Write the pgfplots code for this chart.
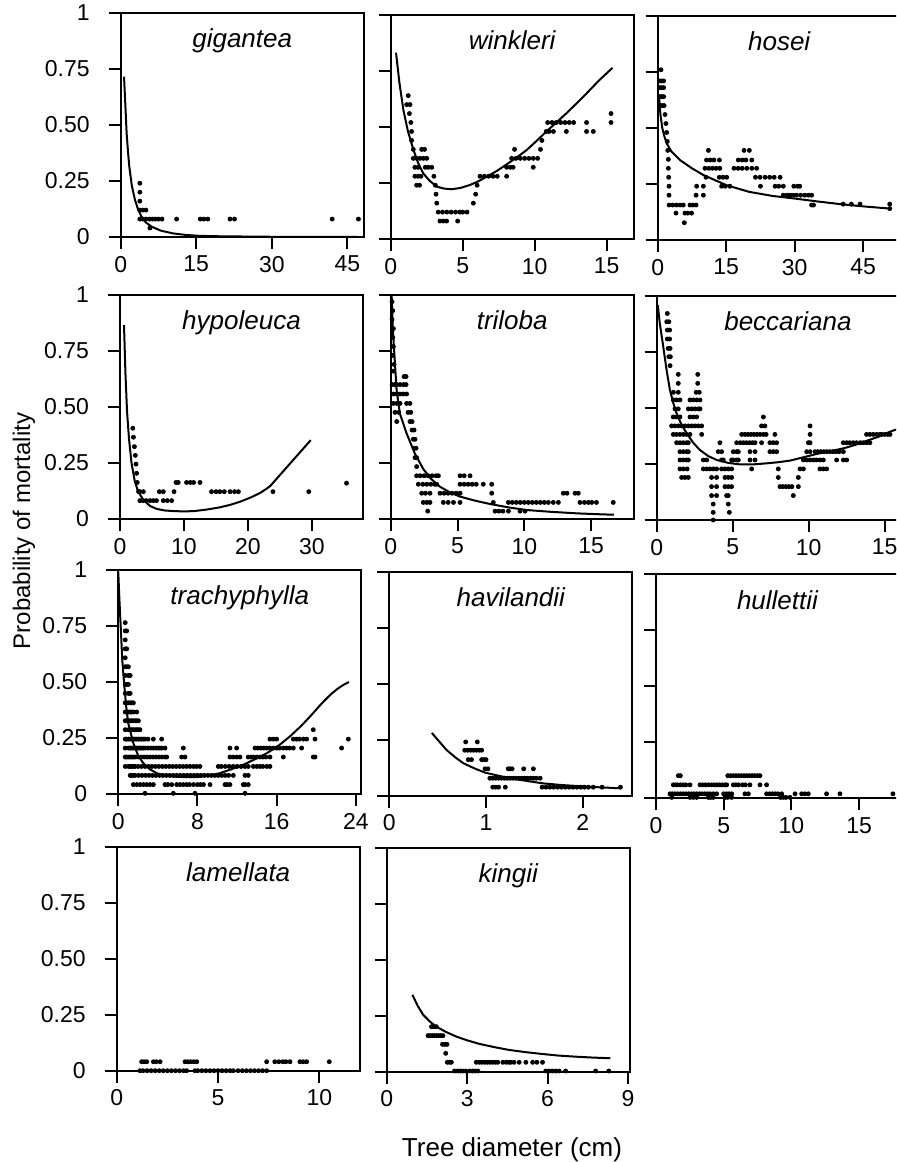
\documentclass[border=0pt]{standalone}
\usepackage{fontspec}
\setmainfont{Liberation Sans}
\usepackage{pgfplots}
\pgfplotsset{compat=1.18}
\pgfplotsset{
  panel/.style={scale only axis, width=121.5pt, height=112pt, anchor=south west,
    xmin=0, ymin=0, ymax=1, clip=false,
    axis line style={line width=1pt}, tick style={line width=1pt, black},
    tick align=outside, major tick length=6pt,
    xtick pos=bottom, ytick pos=left, ytick={0,0.25,0.5,0.75,1}, yticklabels={,,,,},
    tick label style={font=\fontsize{11.5}{13}\selectfont},
    yticklabel style={xshift=-6pt},
    /pgf/number format/assume math mode=true},
  curve/.style={black, line width=1pt, no marks},
  dots/.style={black, only marks, mark=*, mark size=1pt}
}
\tikzset{ttl/.style={anchor=base, font=\itshape\fontsize{13}{15}\selectfont}}
\begin{document}
\begin{tikzpicture}
\path[use as bounding box] (0,0) rectangle (448pt,581pt);
\clip (0,0) rectangle (448pt,581pt);
% gigantea
\begin{axis}[panel, at={(60.35pt,462.5pt)}, xmax=48.25, xtick={0,15,30,45}, yticklabels={0,0.25,0.50,0.75,1}]
\addplot[curve] coordinates {(0.66,0.716)(0.9,0.6)(1.18,0.462)(1.45,0.38)(1.71,0.314)(2.2,0.23)(2.84,0.165)(3.5,0.12)(4.16,0.09)(5,0.065)(6.15,0.046)(8,0.028)(10.4,0.016)(13,0.009)(15.7,0.005)(20,0.003)(30,0.001)(40,0)(47,0)};
\addplot[dots] coordinates {(3.8,0.24)(3.8,0.2)(3.8,0.16)(3.8,0.12)(4.4,0.12)(5.0,0.12)(3.8,0.08)(4.4,0.08)(5.0,0.08)(5.7,0.08)(6.3,0.08)(6.9,0.08)(7.5,0.08)(8.2,0.08)(5.8,0.04)(11.1,0.08)(15.8,0.08)(16.5,0.08)(17.3,0.08)(21.7,0.08)(22.6,0.08)(42,0.08)(47.2,0.08)};
\node[ttl] at (rel axis cs:0.5,0.844) {gigantea};
\end{axis}
% winkleri
\begin{axis}[panel, at={(195.35pt,461.5pt)}, xmax=16.875, xtick={0,5,10,15}]
\addplot[curve] coordinates {(0.37,0.832)(0.6,0.7)(0.88,0.576)(1.2,0.48)(1.57,0.40)(1.9,0.34)(2.26,0.293)(2.7,0.26)(3.19,0.234)(3.7,0.225)(4.23,0.222)(4.85,0.228)(5.5,0.241)(6.1,0.258)(6.66,0.278)(7.35,0.303)(8.05,0.333)(8.75,0.364)(9.44,0.397)(10.1,0.436)(10.8,0.479)(11.5,0.52)(12.2,0.561)(12.9,0.605)(13.6,0.65)(14.5,0.71)(15.4,0.764)};
\addplot[dots] coordinates {(1.22,0.64)(1.11,0.6)(1.34,0.6)(1.3,0.56)(1.4,0.52)(1.45,0.48)(1.45,0.44)(1.57,0.4)(2.15,0.4)(2.35,0.4)(1.57,0.36)(1.8,0.36)(2.03,0.36)(2.27,0.36)(2.5,0.36)(1.68,0.32)(1.9,0.32)(2.4,0.32)(2.6,0.32)(2.85,0.32)(1.68,0.28)(1.9,0.28)(2.1,0.28)(3.0,0.28)(1.8,0.24)(2.0,0.24)(3.1,0.24)(3.15,0.2)(3.2,0.16)(3.3,0.12)(3.6,0.12)(3.9,0.12)(4.2,0.12)(4.5,0.12)(4.8,0.12)(5.0,0.12)(5.3,0.12)(3.42,0.08)(3.65,0.08)(3.88,0.08)(4.65,0.08)(5.74,0.16)(5.9,0.2)(6.0,0.24)(6.2,0.28)(6.5,0.28)(6.8,0.28)(7.1,0.28)(7.4,0.28)(8.05,0.28)(8.05,0.32)(8.3,0.32)(8.5,0.32)(9.9,0.32)(8.6,0.4)(10.4,0.4)(8.4,0.36)(8.7,0.36)(9.0,0.36)(9.3,0.36)(9.6,0.36)(9.9,0.36)(10.2,0.36)(10.5,0.44)(10.8,0.48)(11.0,0.48)(11.3,0.48)(12.2,0.48)(13.6,0.48)(14.07,0.48)(10.9,0.52)(11.2,0.52)(11.5,0.52)(11.8,0.52)(12.1,0.52)(12.4,0.52)(12.7,0.52)(13.6,0.52)(15.3,0.56)(15.3,0.52)};
\node[ttl] at (rel axis cs:0.5,0.844) {winkleri};
\end{axis}
% hosei
\begin{axis}[panel, at={(328.85pt,461pt)}, xmax=53.2, xtick={0,15,30,45}]
\addplot[curve] coordinates {(0.3,0.64)(0.6,0.56)(1,0.5)(1.5,0.46)(2,0.43)(3,0.395)(5,0.355)(7.5,0.32)(10,0.29)(15,0.245)(20,0.215)(25,0.197)(30,0.185)(35,0.172)(40,0.16)(45,0.15)(51,0.14)};
\addplot[dots] coordinates {(0.72,0.76)(0.5,0.71)(0.9,0.71)(1.3,0.71)(0.5,0.68)(0.9,0.68)(1.3,0.68)(0.5,0.64)(0.9,0.64)(1.3,0.64)(0.6,0.6)(1.0,0.6)(1.4,0.6)(1.6,0.56)(1.8,0.52)(1.95,0.48)(2.1,0.44)(2.2,0.4)(2.33,0.36)(2.33,0.32)(2.4,0.28)(2.48,0.24)(2.48,0.2)(2.5,0.156)(3.3,0.156)(4.1,0.156)(4.9,0.156)(5.6,0.156)(7.07,0.156)(7.7,0.156)(8.4,0.156)(4.0,0.12)(5.97,0.12)(6.6,0.12)(7.4,0.12)(5.83,0.077)(8.4,0.2)(10.0,0.2)(8.53,0.24)(10.0,0.24)(10.57,0.28)(10.35,0.32)(11.2,0.32)(12.0,0.32)(12.8,0.32)(13.6,0.32)(10.7,0.357)(11.5,0.357)(12.3,0.357)(13.5,0.357)(11.1,0.4)(13.5,0.28)(14.3,0.28)(15.1,0.28)(14.0,0.24)(14.8,0.24)(15.8,0.24)(16.7,0.32)(17.6,0.32)(18.5,0.32)(19.5,0.32)(17.65,0.357)(18.5,0.357)(19.3,0.357)(20.6,0.357)(18.9,0.4)(20.06,0.4)(20.6,0.32)(21.66,0.32)(21.4,0.28)(22.4,0.28)(22.5,0.24)(23.5,0.28)(24.5,0.28)(25.5,0.28)(26.8,0.28)(25.7,0.24)(26.5,0.24)(27.5,0.24)(27.5,0.2)(28.3,0.2)(29.0,0.2)(29.7,0.2)(29.8,0.24)(30.6,0.24)(31.1,0.24)(30.4,0.2)(31.3,0.2)(32.2,0.2)(33.0,0.2)(33.7,0.2)(33.7,0.156)(34.1,0.156)(40.6,0.16)(42.4,0.16)(44.3,0.16)(50.8,0.16)(50.8,0.14)};
\node[ttl] at (rel axis cs:0.5,0.844) {hosei};
\end{axis}
% hypoleuca
\begin{axis}[panel, at={(60pt,321.5pt)}, xmax=37.97, xtick={0,10,20,30}, yticklabels={0,0.25,0.50,0.75,1}]
\addplot[curve] coordinates {(0.625,0.866)(0.85,0.65)(1.1,0.48)(1.4,0.36)(1.8,0.25)(2.3,0.17)(2.8,0.125)(3.65,0.085)(4.7,0.058)(5.73,0.045)(7,0.038)(8.5,0.035)(10,0.034)(11.5,0.035)(13.5,0.042)(15.6,0.052)(17.2,0.063)(18.75,0.077)(20.5,0.097)(22,0.118)(22.9,0.135)(23.5,0.148)(29.8,0.352)};
\addplot[dots] coordinates {(2.0,0.405)(2.1,0.365)(2.25,0.323)(2.4,0.284)(2.5,0.245)(2.6,0.204)(2.7,0.163)(2.9,0.122)(3.1,0.122)(3.65,0.122)(3.1,0.082)(3.6,0.082)(4.1,0.082)(4.7,0.082)(5.2,0.082)(5.7,0.082)(6.15,0.122)(6.77,0.122)(6.77,0.082)(7.4,0.082)(8.07,0.082)(8.44,0.122)(8.75,0.163)(9.1,0.163)(10.4,0.163)(11.0,0.163)(11.5,0.163)(12.5,0.163)(14.3,0.122)(15.0,0.122)(15.6,0.122)(16.3,0.122)(17.2,0.122)(17.9,0.122)(18.5,0.122)(23.9,0.122)(29.5,0.122)(35.4,0.16)};
\node[ttl] at (rel axis cs:0.5,0.844) {hypoleuca};
\end{axis}
% triloba
\begin{axis}[panel, at={(195.35pt,321.5pt)}, xmax=18.19, xtick={0,5,10,15}]
\addplot[curve] coordinates {(0.07,1.0)(0.15,0.86)(0.24,0.77)(0.44,0.576)(0.69,0.47)(1.19,0.382)(1.8,0.293)(2.44,0.223)(3.0,0.18)(3.69,0.144)(4.4,0.12)(5.19,0.1)(6.3,0.082)(7.43,0.067)(8.8,0.052)(10.17,0.04)(12,0.032)(14,0.025)(15.7,0.021)(16.7,0.019)};
\addplot[dots] coordinates {(0.1,0.97)(0.15,0.93)(0.1,0.89)(0.2,0.85)(0.15,0.81)(0.2,0.77)(0.15,0.73)(0.25,0.69)(0.2,0.66)(1.0,0.636)(1.15,0.636)(0.1,0.6)(0.3,0.6)(0.45,0.6)(0.7,0.6)(0.95,0.6)(1.15,0.6)(0.2,0.558)(0.45,0.558)(0.7,0.558)(0.95,0.558)(1.19,0.558)(0.2,0.516)(0.45,0.516)(0.7,0.516)(1.19,0.516)(1.44,0.516)(0.32,0.476)(0.6,0.476)(1.3,0.476)(1.5,0.476)(0.45,0.435)(1.44,0.435)(1.6,0.435)(1.6,0.397)(1.75,0.397)(1.69,0.356)(1.82,0.356)(1.75,0.316)(1.9,0.316)(1.82,0.274)(1.94,0.274)(1.94,0.234)
(1.94,0.193)(2.2,0.193)(2.5,0.193)(2.8,0.193)(3.1,0.193)(3.4,0.193)(3.57,0.193)(5.19,0.193)(5.5,0.193)(5.94,0.193)
(2.07,0.155)(2.4,0.155)(2.7,0.155)(3.0,0.155)(3.3,0.155)(3.44,0.155)(5.19,0.155)(5.5,0.155)(5.8,0.155)(6.1,0.155)(6.4,0.155)(6.93,0.155)(7.56,0.155)
(2.32,0.115)(2.6,0.115)(2.94,0.115)(3.69,0.115)(4.0,0.115)(4.3,0.115)(4.6,0.115)(4.9,0.115)(5.19,0.115)(7.56,0.115)(12.92,0.115)(13.2,0.115)(13.8,0.115)(14.04,0.115)
(2.44,0.074)(2.7,0.074)(2.94,0.074)(3.94,0.074)(4.3,0.074)(4.7,0.074)(5.19,0.074)(7.68,0.074)(8.81,0.074)(9.1,0.074)(9.4,0.074)(9.7,0.074)(10.0,0.074)(10.3,0.074)(10.6,0.074)(10.9,0.074)(11.2,0.074)(11.5,0.074)(11.8,0.074)(12.17,0.074)(12.55,0.074)(14.17,0.074)(14.5,0.074)(14.8,0.074)(15.05,0.074)(15.4,0.074)(16.66,0.074)
(2.77,0.035)(7.81,0.035)(8.1,0.035)(8.4,0.035)(8.81,0.035)(9.68,0.035)(10.05,0.035)};
\node[ttl] at (rel axis cs:0.5,0.844) {triloba};
\end{axis}
% beccariana
\begin{axis}[panel, at={(328.35pt,321pt)}, xmax=15.99, xtick={0,5,10,15}]
\addplot[curve] coordinates {(0.07,0.96)(0.2,0.88)(0.43,0.774)(0.65,0.67)(0.87,0.58)(1.1,0.52)(1.31,0.476)(1.6,0.43)(1.97,0.387)(2.4,0.345)(2.85,0.312)(3.4,0.285)(3.95,0.268)(4.7,0.255)(5.48,0.248)(6.3,0.248)(7.24,0.253)(8.0,0.258)(8.77,0.265)(9.65,0.28)(10.53,0.295)(11.4,0.307)(12.3,0.32)(13.05,0.335)(13.8,0.353)(14.6,0.372)(15.35,0.394)(15.8,0.405)};
\addplot[dots] coordinates {(0.7,0.922)(0.66,0.885)(0.8,0.885)(0.7,0.848)(0.85,0.848)(0.7,0.808)(0.85,0.808)(0.75,0.766)(0.88,0.766)(0.8,0.729)(0.9,0.729)(0.88,0.689)
(1.42,0.65)(1.42,0.61)(1.1,0.57)(1.42,0.57)(1.09,0.536)(1.3,0.536)(1.53,0.536)(1.2,0.496)(1.42,0.496)
(1.09,0.46)(1.3,0.46)(1.53,0.46)(2.19,0.46)(2.4,0.46)(2.63,0.46)
(0.98,0.42)(1.2,0.42)(1.42,0.42)(1.64,0.42)(1.86,0.42)(2.08,0.42)(2.3,0.42)(2.52,0.42)(2.74,0.42)(2.96,0.42)
(1.09,0.382)(1.3,0.382)(1.53,0.382)(1.75,0.382)(1.97,0.382)(2.19,0.382)(2.96,0.382)
(1.31,0.345)(1.53,0.345)(1.75,0.345)(1.97,0.345)(2.08,0.345)
(1.53,0.305)(1.75,0.305)(1.97,0.305)(2.08,0.305)
(1.53,0.268)(1.75,0.268)(1.97,0.268)(2.08,0.268)(3.07,0.268)(3.29,0.268)
(1.53,0.228)(1.75,0.228)(2.0,0.228)(1.64,0.19)(1.86,0.19)(2.08,0.19)
(2.7,0.65)(2.7,0.61)(2.6,0.57)(2.8,0.57)(2.19,0.536)(2.4,0.536)(2.63,0.536)(2.85,0.536)(2.08,0.496)(2.3,0.496)(2.52,0.496)(2.74,0.496)(2.85,0.496)
(4.16,0.345)
(4.05,0.305)(4.27,0.305)(5.04,0.305)(5.26,0.305)(5.37,0.305)(6.14,0.305)(6.47,0.305)(7.45,0.305)(7.67,0.305)(7.89,0.305)
(4.27,0.268)(4.38,0.268)(4.93,0.268)(5.04,0.268)(5.26,0.268)(5.37,0.268)(6.14,0.268)(6.47,0.268)
(3.07,0.228)(3.29,0.228)(3.5,0.228)(3.72,0.228)(3.94,0.228)(4.27,0.228)(4.49,0.228)(4.71,0.228)(4.93,0.228)(6.25,0.228)(8.0,0.228)(9.43,0.228)(9.65,0.228)
(3.61,0.19)(3.94,0.19)(4.49,0.19)(4.71,0.19)(4.93,0.19)(8.0,0.19)(9.32,0.19)
(3.61,0.149)(3.94,0.149)(4.49,0.149)(4.71,0.149)(4.93,0.149)(8.11,0.149)(8.3,0.149)(8.5,0.149)(8.7,0.149)(8.9,0.149)(9.32,0.149)
(3.61,0.109)(3.94,0.109)(4.6,0.109)(4.71,0.109)(8.99,0.109)
(3.72,0.071)(4.71,0.071)(3.72,0.034)(4.78,0.034)(3.72,0)
(5.59,0.382)(5.8,0.382)(6.0,0.382)(6.2,0.382)(6.4,0.382)(6.6,0.382)(6.8,0.382)(7.02,0.382)(7.2,0.382)(7.78,0.382)
(5.26,0.345)(5.5,0.345)(5.7,0.345)(5.9,0.345)(6.1,0.345)(6.3,0.345)(6.47,0.345)(6.9,0.345)(7.45,0.345)(7.67,0.345)(7.89,0.345)
(6.9,0.42)(7.12,0.42)(7.02,0.46)
(9.65,0.268)(9.87,0.268)(10.09,0.268)(10.31,0.268)(10.5,0.268)(10.74,0.268)(10.96,0.268)(11.84,0.268)(12.28,0.268)(12.5,0.268)
(9.87,0.305)(10.09,0.305)(10.42,0.305)(10.6,0.305)(10.8,0.305)(11.0,0.305)(11.2,0.305)(11.4,0.305)(11.6,0.305)(11.8,0.305)(12.0,0.305)(12.28,0.305)
(9.98,0.345)(10.09,0.345)(12.28,0.345)(12.5,0.345)(12.7,0.345)(12.93,0.345)(13.15,0.345)(13.4,0.345)(13.6,0.345)(13.81,0.345)(14.03,0.345)
(10.09,0.382)(13.81,0.382)(14.03,0.382)(14.25,0.382)(14.47,0.382)(14.69,0.382)(14.8,0.382)(15.0,0.382)(15.2,0.382)(15.35,0.382)
(10.74,0.228)(10.96,0.228)(11.18,0.228)(10.09,0.42)};
\node[ttl] at (rel axis cs:0.54,0.844) {beccariana};
\end{axis}
% trachyphylla
\begin{axis}[panel, at={(59.15pt,184pt)}, xmax=24.55, xtick={0,8,16,24}, yticklabels={0,0.25,0.50,0.75,1}]
\addplot[curve] coordinates {(0.0,0.99)(0.1,0.88)(0.24,0.75)(0.4,0.6)(0.58,0.496)(0.8,0.39)(1.0,0.317)(1.52,0.227)(2.0,0.172)(2.53,0.137)(3.2,0.11)(3.88,0.093)(4.7,0.083)(5.56,0.078)(6.7,0.075)(7.9,0.075)(9.1,0.082)(10.27,0.093)(11.4,0.11)(12.6,0.13)(13.8,0.155)(15.0,0.182)(16.2,0.216)(17.34,0.257)(18.5,0.305)(19.1,0.333)(19.7,0.362)(20.3,0.392)(20.9,0.42)(21.5,0.446)(22.1,0.468)(22.7,0.486)(23.3,0.5)};
\addplot[dots] coordinates {(0.7,0.765)(0.7,0.728)(0.7,0.688)(0.7,0.648)(0.7,0.608)(0.7,0.568)(0.7,0.529)(0.7,0.489)(0.7,0.449)(0.7,0.407)(0.7,0.366)(0.7,0.327)(0.7,0.287)(0.7,0.245)(0.7,0.205)(0.7,0.165)(0.7,0.123)
(0.85,0.728)(0.85,0.648)(0.85,0.568)(0.85,0.489)(0.85,0.407)(0.85,0.327)(0.85,0.245)(0.85,0.165)
(1.02,0.568)(1.02,0.529)(1.02,0.489)(1.02,0.449)(1.02,0.407)(1.02,0.366)(1.02,0.327)(1.02,0.287)(1.02,0.245)(1.02,0.205)(1.02,0.165)(1.02,0.123)
(1.2,0.529)(1.2,0.449)(1.2,0.407)(1.2,0.366)(1.2,0.327)(1.2,0.287)(1.2,0.245)(1.2,0.205)(1.2,0.165)(1.2,0.123)(1.2,0.083)
(1.35,0.407)(1.35,0.366)(1.35,0.327)(1.35,0.287)(1.35,0.245)(1.35,0.205)(1.35,0.165)(1.35,0.123)(1.35,0.083)
(1.52,0.407)(1.52,0.366)(1.52,0.327)(1.52,0.287)(1.52,0.245)(1.52,0.205)(1.52,0.165)(1.52,0.123)(1.52,0.083)(1.52,0.042)
(1.86,0.366)(1.7,0.327)(1.86,0.327)(2.03,0.327)(1.7,0.287)(1.86,0.287)(2.03,0.287)(2.19,0.287)
(1.7,0.245)(1.86,0.245)(2.03,0.245)(2.19,0.245)(2.36,0.245)(2.53,0.245)(2.7,0.245)(3.0,0.245)(3.54,0.245)(4.38,0.245)
(1.7,0.205)(1.86,0.205)(2.03,0.205)(2.19,0.205)(2.36,0.205)(2.53,0.205)(2.7,0.205)(3.0,0.205)(3.3,0.205)(3.54,0.205)(3.8,0.205)(4.0,0.205)(4.2,0.205)(4.38,0.205)(4.72,0.205)(6.57,0.205)(11.28,0.205)(11.96,0.205)(13.81,0.205)(14.1,0.205)(14.4,0.205)(14.7,0.205)(15.0,0.205)(15.32,0.205)(15.66,0.205)(16.0,0.205)(16.3,0.205)(16.67,0.205)(17.0,0.205)(17.3,0.205)(17.68,0.205)(18.52,0.205)(22.56,0.205)
(1.7,0.165)(2.0,0.165)(2.3,0.165)(2.6,0.165)(2.9,0.165)(3.2,0.165)(3.5,0.165)(3.8,0.165)(4.1,0.165)(4.4,0.165)(4.7,0.165)(4.89,0.165)(6.4,0.165)(6.74,0.165)(11.28,0.165)(11.6,0.165)(11.96,0.165)(12.29,0.165)(13.13,0.165)(13.4,0.165)(13.64,0.165)(14.0,0.165)(14.3,0.165)(14.6,0.165)(14.9,0.165)(15.32,0.165)(16.67,0.165)(19.7,0.165)(19.87,0.165)
(1.7,0.123)(2.0,0.123)(2.35,0.123)(2.7,0.123)(3.05,0.123)(3.4,0.123)(3.75,0.123)(4.1,0.123)(4.45,0.123)(4.8,0.123)(5.15,0.123)(5.5,0.123)(5.85,0.123)(6.2,0.123)(6.55,0.123)(6.9,0.123)(7.25,0.123)(7.6,0.123)(7.9,0.123)(8.25,0.123)(10.1,0.123)(10.4,0.123)(10.8,0.123)(11.2,0.123)(11.6,0.123)(12.0,0.123)(12.4,0.123)(12.8,0.123)(13.13,0.123)(13.64,0.123)(13.98,0.123)(14.3,0.123)(14.6,0.123)(15.0,0.123)(15.32,0.123)
(1.7,0.083)(2.05,0.083)(2.4,0.083)(2.75,0.083)(3.1,0.083)(3.45,0.083)(3.8,0.083)(4.15,0.083)(4.5,0.083)(4.85,0.083)(5.2,0.083)(5.55,0.083)(5.9,0.083)(6.25,0.083)(6.6,0.083)(6.95,0.083)(7.3,0.083)(7.65,0.083)(8.0,0.083)(8.35,0.083)(8.7,0.083)(9.05,0.083)(9.4,0.083)(9.75,0.083)(10.1,0.083)(10.45,0.083)(10.8,0.083)(11.15,0.083)(11.62,0.083)(12.8,0.083)(13.13,0.083)
(1.86,0.042)(2.2,0.042)(2.53,0.042)(2.87,0.042)(3.2,0.042)(3.54,0.042)(4.72,0.042)(5.0,0.042)(5.4,0.042)(5.9,0.042)(6.23,0.042)(6.57,0.042)(6.9,0.042)(7.2,0.042)(7.6,0.042)(8.0,0.042)(8.3,0.042)(8.6,0.042)(9.27,0.042)(10.78,0.042)(11.0,0.042)(11.28,0.042)(12.63,0.042)(12.8,0.042)(13.13,0.042)
(2.7,0.003)(5.56,0.003)(7.75,0.003)(12.8,0.003)
(15.32,0.245)(15.66,0.245)(16.0,0.245)(17.68,0.245)(18.0,0.245)(18.3,0.245)(18.7,0.245)(19.03,0.245)(19.87,0.245)(23.24,0.245)(19.7,0.287)};
\node[ttl] at (rel axis cs:0.5,0.844) {trachyphylla};
\end{axis}
% havilandii
\begin{axis}[panel, at={(194.65pt,183.15pt)}, xmax=2.513, xtick={0,1,2}]
\addplot[curve] coordinates {(0.44,0.28)(0.52,0.24)(0.59,0.205)(0.68,0.172)(0.766,0.145)(0.88,0.122)(0.99,0.103)(1.12,0.09)(1.25,0.078)(1.42,0.066)(1.59,0.055)(1.77,0.048)(1.94,0.043)(2.15,0.038)(2.39,0.033)};
\addplot[dots] coordinates {(0.79,0.24)(0.91,0.24)(0.78,0.203)(0.81,0.203)(0.84,0.203)(0.87,0.203)(0.90,0.203)(0.93,0.203)(0.955,0.203)(0.817,0.161)(0.85,0.161)(0.955,0.161)(0.98,0.161)(1.0,0.161)(0.99,0.12)(1.02,0.12)(1.23,0.12)(1.25,0.12)(1.27,0.12)(1.39,0.12)(1.49,0.12)
(1.04,0.078)(1.07,0.078)(1.1,0.078)(1.13,0.078)(1.16,0.078)(1.19,0.078)(1.22,0.078)(1.25,0.078)(1.28,0.078)(1.31,0.078)(1.34,0.078)(1.37,0.078)(1.40,0.078)(1.43,0.078)(1.46,0.078)(1.49,0.078)(1.52,0.078)(1.56,0.078)
(1.07,0.038)(1.1,0.038)(1.13,0.038)(1.2,0.038)(1.58,0.038)(1.62,0.038)(1.66,0.038)(1.7,0.038)(1.74,0.038)(1.78,0.038)(1.82,0.038)(1.86,0.038)(1.9,0.038)(1.94,0.038)(1.98,0.038)(2.02,0.038)(2.06,0.038)(2.11,0.038)(2.2,0.038)(2.39,0.038)};
\node[ttl] at (rel axis cs:0.5,0.844) {havilandii};
\end{axis}
% hullettii
\begin{axis}[panel, at={(328pt,181.85pt)}, xmax=17.95, xtick={0,5,10,15}]
\addplot[dots] coordinates {(1.65,0.101)(1.8,0.101)(5.3,0.101)(5.5,0.101)(5.7,0.101)(5.9,0.101)(6.1,0.101)(6.3,0.101)(6.5,0.101)(6.7,0.101)(6.9,0.101)(7.1,0.101)(7.3,0.101)(7.5,0.101)(7.68,0.101)
(1.28,0.06)(1.45,0.06)(1.6,0.06)(1.8,0.06)(2.0,0.06)(2.2,0.06)(2.51,0.06)(3.25,0.06)(3.45,0.06)(3.65,0.06)(3.87,0.06)(4.1,0.06)(4.3,0.06)(4.5,0.06)(4.7,0.06)(4.9,0.06)(5.1,0.06)(5.22,0.06)(5.71,0.06)(5.9,0.06)(6.1,0.06)(6.4,0.06)(6.6,0.06)(6.94,0.06)(7.68,0.06)(8.17,0.06)
(1.03,0.02)(1.2,0.02)(1.4,0.02)(1.6,0.02)(1.8,0.02)(2.0,0.02)(2.2,0.02)(2.4,0.02)(2.6,0.02)(2.8,0.02)(3.0,0.02)(3.2,0.02)(3.4,0.02)(3.6,0.02)(3.8,0.02)(4.0,0.02)(4.23,0.02)(4.48,0.02)(5.0,0.02)(5.2,0.02)(5.4,0.02)(5.59,0.02)(6.57,0.02)(6.82,0.02)(8.17,0.02)(8.4,0.02)(8.6,0.02)(8.8,0.02)(9.0,0.02)(9.28,0.02)(10.27,0.02)(10.76,0.02)(11.0,0.02)(11.25,0.02)(12.6,0.02)(13.59,0.02)(17.5,0.02)
(1.16,0.004)(2.51,0.004)(2.75,0.004)(3.0,0.004)(3.87,0.004)(4.05,0.004)(4.23,0.004)(5.1,0.004)(5.3,0.004)(5.59,0.004)(9.2,0.004)(9.4,0.004)(9.6,0.004)(9.9,0.004)};
\node[ttl] at (rel axis cs:0.5,0.844) {hullettii};
\end{axis}
% lamellata
\begin{axis}[panel, at={(58.35pt,45.65pt)}, xmax=11.99, xtick={0,5,10}, yticklabels={0,0.25,0.50,0.75,1}]
\addplot[dots] coordinates {(1.23,0.04)(1.35,0.04)(1.48,0.04)(1.81,0.04)(1.95,0.04)(2.14,0.04)(3.37,0.04)(3.5,0.04)(3.65,0.04)(3.8,0.04)(3.95,0.04)(7.4,0.04)(7.8,0.04)(8.0,0.04)(8.2,0.04)(8.35,0.04)(8.55,0.04)(9.04,0.04)(9.2,0.04)(9.37,0.04)(10.49,0.04)
(1.15,0)(1.3,0)(1.5,0)(1.7,0)(1.9,0)(2.1,0)(2.3,0)(2.5,0)(2.7,0)(2.9,0)(3.1,0)(3.3,0)(3.45,0)(3.86,0)(4.0,0)(4.2,0)(4.4,0)(4.6,0)(4.8,0)(5.0,0)(5.2,0)(5.4,0)(5.6,0)(5.75,0)(5.99,0)(6.2,0)(6.4,0)(6.6,0)(6.8,0)(7.0,0)(7.2,0)(7.4,0)};
\node[ttl] at (rel axis cs:0.5,0.844) {lamellata};
\end{axis}
% kingii
\begin{axis}[panel, at={(193.35pt,45.15pt)}, xmax=9.06, xtick={0,3,6,9}]
\addplot[curve] coordinates {(0.96,0.343)(1.15,0.295)(1.36,0.254)(1.6,0.225)(1.85,0.201)(2.2,0.178)(2.59,0.157)(3.0,0.14)(3.46,0.124)(4.0,0.11)(4.57,0.097)(5.2,0.087)(5.81,0.079)(6.4,0.072)(7.05,0.067)(7.7,0.063)(8.34,0.06)};
\addplot[dots] coordinates {(1.67,0.201)(1.75,0.201)(1.85,0.201)(1.54,0.161)(1.62,0.161)(1.7,0.161)(1.78,0.161)(1.86,0.161)(1.94,0.161)(2.02,0.161)(2.1,0.161)(2.08,0.122)(2.17,0.122)(2.25,0.122)(2.2,0.082)
(2.26,0.042)(2.34,0.042)(2.41,0.042)(3.34,0.042)(3.45,0.042)(3.55,0.042)(3.65,0.042)(3.75,0.042)(3.85,0.042)(3.95,0.042)(4.05,0.042)(4.14,0.042)(4.33,0.042)(4.45,0.042)(4.55,0.042)(4.63,0.042)(4.75,0.042)(4.94,0.042)(5.19,0.042)(5.44,0.042)(5.6,0.042)(5.81,0.042)
(2.53,0.003)(2.65,0.003)(2.75,0.003)(2.84,0.003)(2.95,0.003)(3.09,0.003)(3.2,0.003)(3.3,0.003)(3.4,0.003)(5.93,0.003)(6.05,0.003)(6.18,0.003)(6.3,0.003)(6.43,0.003)(6.67,0.003)(7.79,0.003)(8.28,0.003)};
\node[ttl] at (rel axis cs:0.5,0.844) {kingii};
\end{axis}
\node[rotate=90, font=\fontsize{12}{14}\selectfont] at (12pt,315.5pt) {Probability of mortality};
\node[font=\fontsize{13}{15}\selectfont] at (256pt,6pt) {Tree diameter (cm)};
\end{tikzpicture}
\end{document}
